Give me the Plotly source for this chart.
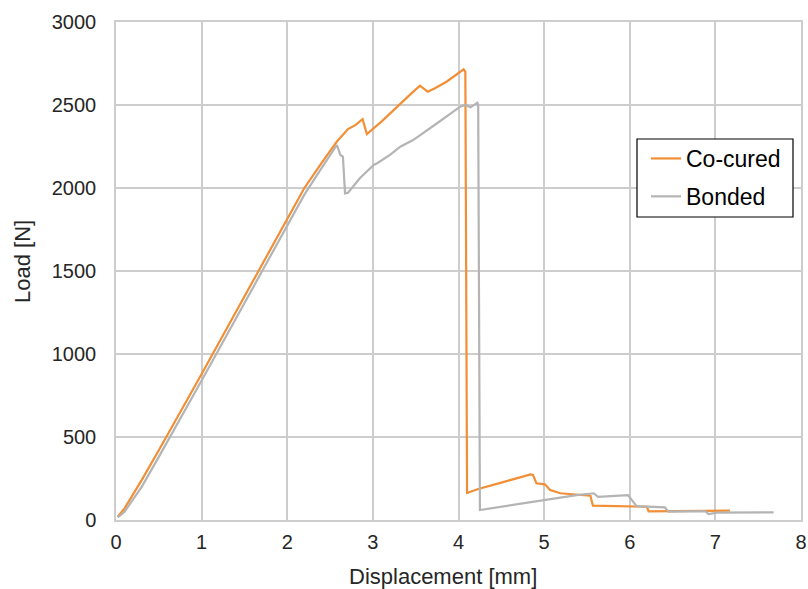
import plotly.graph_objects as go

# Co-cured series
cocured_x = [0.02, 0.1, 0.3, 0.5, 1.0, 1.5, 2.0, 2.2, 2.4, 2.58, 2.71, 2.8, 2.88, 2.93, 3.1, 3.28, 3.45, 3.55, 3.64, 3.72, 3.86, 4.06, 4.08, 4.10,
             4.23, 4.5, 4.84, 4.87, 4.91, 5.01, 5.07, 5.19, 5.28, 5.54, 5.57, 6.04, 6.20, 6.22, 6.6, 7.17]
cocured_y = [20, 70, 240, 420, 880, 1350, 1820, 2000, 2150, 2280, 2355, 2380, 2415, 2325, 2400, 2490, 2570, 2616, 2580, 2600, 2640, 2715, 2700, 163,
             187, 225, 275, 271, 221, 215, 181, 161, 157, 146, 86, 84, 80, 52, 55, 56]

# Bonded series
bonded_x = [0.02, 0.1, 0.3, 0.5, 1.0, 1.5, 2.0, 2.2, 2.4, 2.58, 2.62, 2.65, 2.675, 2.71, 2.85, 3.01, 3.05, 3.2, 3.32, 3.47, 3.75, 4.02, 4.08, 4.14, 4.22, 4.23, 4.25,
            5.38, 5.58, 5.63, 5.98, 6.04, 6.08, 6.41, 6.45, 6.88, 6.92, 7.02, 7.68]
bonded_y = [15, 50, 200, 380, 840, 1310, 1780, 1960, 2120, 2259, 2199, 2189, 1968, 1972, 2060, 2139, 2149, 2200, 2249, 2289, 2390, 2490, 2500, 2486, 2514, 2500, 60,
            150, 161, 140, 150, 110, 84, 76, 50, 54, 36, 44, 46]

x_ticks = [0, 1, 2, 3, 4, 5, 6, 7, 8]
y_ticks = [0, 500, 1000, 1500, 2000, 2500, 3000]

W, H = 808, 589
ML, MR, MT, MB = 116, 7, 22, 69
PW, PH = W - ML - MR, H - MT - MB


def px_x(p):
    return (p - ML) / PW


def px_y(p):
    return (H - MB - p) / PH


fig = go.Figure()
fig.add_trace(go.Scatter(x=cocured_x, y=cocured_y, mode="lines", name="Co-cured", legendgroup="a",
                         line=dict(color="#F28E35", width=2.2)))
fig.add_trace(go.Scatter(x=bonded_x, y=bonded_y, mode="lines", name="Bonded", legendgroup="b",
                         line=dict(color="#B4B4B4", width=2.2)))

font_family = "Liberation Sans, Arial, sans-serif"
fig.update_layout(
    width=W, height=H,
    margin=dict(l=ML, r=MR, t=MT, b=MB, autoexpand=False),
    paper_bgcolor="white", plot_bgcolor="white",
    font=dict(family=font_family, size=20, color="#262626"),
    legend=dict(x=px_x(646), y=px_y(137), xanchor="left", yanchor="top",
                borderwidth=0, bgcolor="rgba(0,0,0,0)",
                font=dict(size=23, color="black"), tracegroupgap=5),
    xaxis=dict(range=[0, 8], tickvals=x_ticks, showgrid=True, gridcolor="#CDCDCD", gridwidth=1.5,
               showline=True, linecolor="#CDCDCD", linewidth=1.5, mirror=True, zeroline=False,
               ticks="", ticklen=0, ticklabelstandoff=3, automargin=False),
    yaxis=dict(range=[0, 3000], tickvals=y_ticks, showgrid=True, gridcolor="#CDCDCD", gridwidth=1.5,
               showline=True, linecolor="#CDCDCD", linewidth=1.5, mirror=True, zeroline=False,
               ticks="", ticklen=0, ticklabelstandoff=14, automargin=False),
    shapes=[dict(type="rect", xref="paper", yref="paper",
                 x0=px_x(637), x1=px_x(793), y0=px_y(217), y1=px_y(139),
                 line=dict(color="black", width=1.2), fillcolor="white", layer="above")],
    annotations=[
        dict(text="Displacement [mm]", xref="paper", yref="paper", x=px_x(443), y=px_y(576),
             xanchor="center", yanchor="middle", showarrow=False, font=dict(size=22)),
        dict(text="Load [N]", xref="paper", yref="paper", x=px_x(22), y=px_y(262),
             xanchor="center", yanchor="middle", showarrow=False, textangle=-90, font=dict(size=22)),
    ],
)
fig.write_html("out.html", config={"displayModeBar": False},
               post_script="document.body.style.margin='0px';")
